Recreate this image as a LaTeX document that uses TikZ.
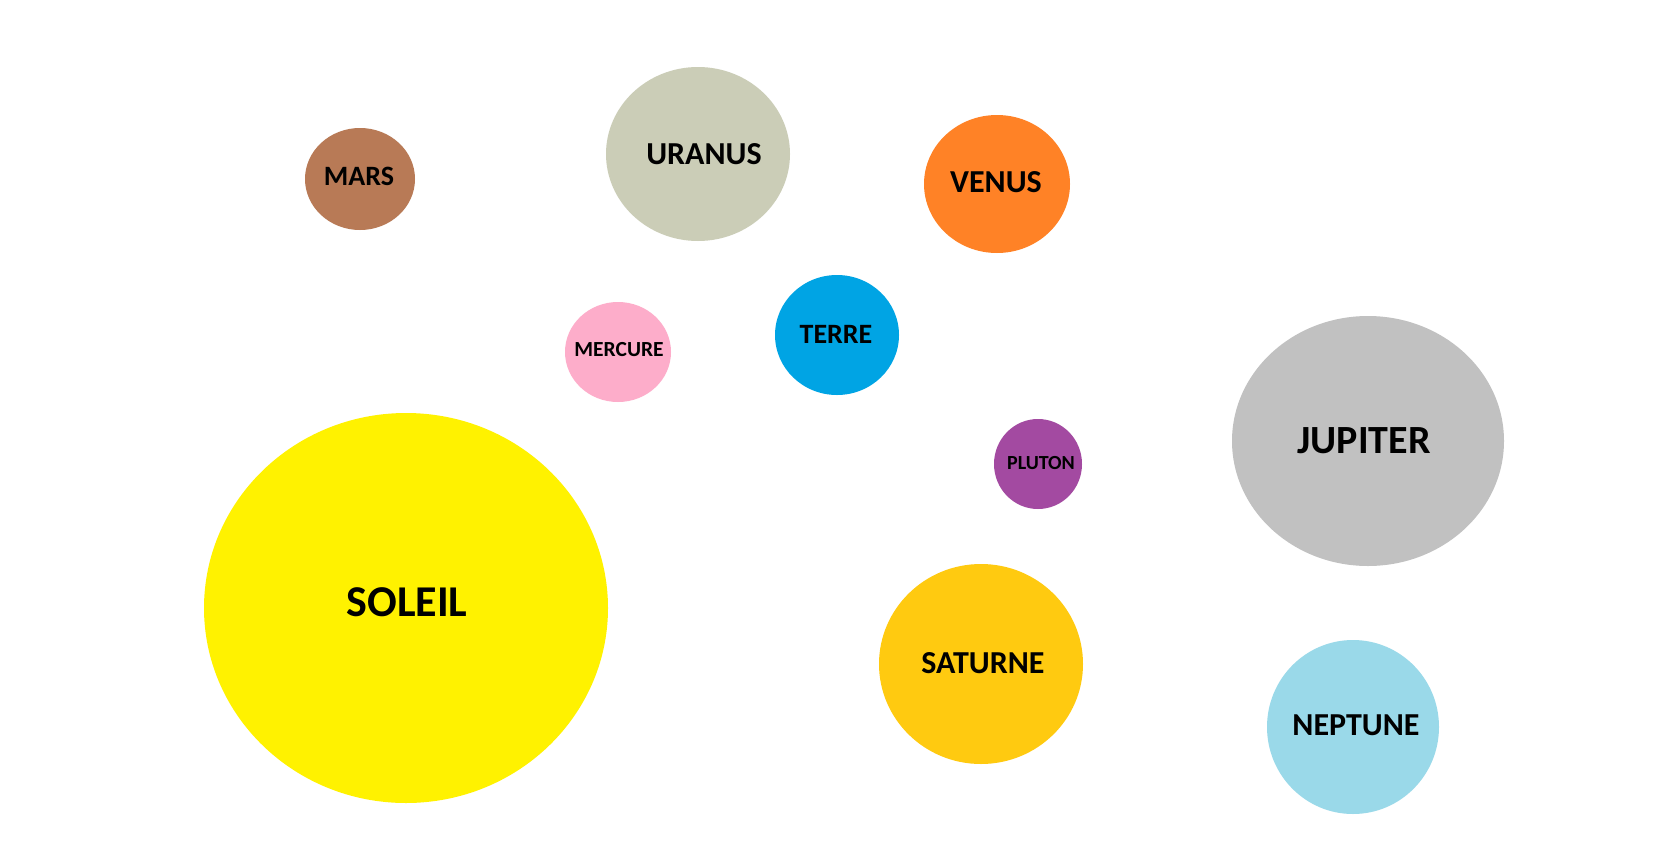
\documentclass[tikz,border=0pt]{standalone}
\usepackage{fontspec}
\setmainfont{Carlito}
\usepackage{tikz}

\definecolor{marscol}{RGB}{184,122,86}
\definecolor{uranuscol}{RGB}{203,205,183}
\definecolor{venuscol}{RGB}{255,130,38}
\definecolor{mercurecol}{RGB}{253,173,202}
\definecolor{terrecol}{RGB}{0,164,228}
\definecolor{plutoncol}{RGB}{163,74,161}
\definecolor{jupitercol}{RGB}{193,193,193}
\definecolor{soleilcol}{RGB}{255,242,0}
\definecolor{saturnecol}{RGB}{255,202,16}
\definecolor{neptunecol}{RGB}{154,217,233}

\begin{document}
\begin{tikzpicture}[x=1pt,y=-1pt,
  nom/.style={inner sep=0pt, font=\bfseries}]
\useasboundingbox (0,0) rectangle (1679,857);
\fill[color=white] (0,0) rectangle (1679,857);
\fill[color=marscol] (360,179) ellipse (55 and 51);
\fill[color=uranuscol] (698,154) ellipse (92 and 87);
\fill[color=venuscol] (997,184) ellipse (73 and 69);
\fill[color=mercurecol] (618,352) ellipse (53 and 50);
\fill[color=terrecol] (837,335) ellipse (62 and 60);
\fill[color=plutoncol] (1038,464) ellipse (44 and 45);
\fill[color=jupitercol] (1368,441) ellipse (136 and 125);
\fill[color=soleilcol] (406,608) ellipse (202 and 195);
\fill[color=saturnecol] (981,664) ellipse (102 and 100);
\fill[color=neptunecol] (1353,727) ellipse (86 and 87);
\path (359,176) node[nom, font=\fontsize{28}{30}\selectfont\bfseries] (mars) {MARS};
\path (704,154) node[nom, font=\fontsize{32}{34}\selectfont\bfseries] (uranus) {URANUS};
\path (996,182) node[nom, font=\fontsize{32}{34}\selectfont\bfseries] (venus) {VENUS};
\path (619,350) node[nom, font=\fontsize{21.5}{23}\selectfont\bfseries] (mercure) {MERCURE};
\path (836,334) node[nom, font=\fontsize{28}{30}\selectfont\bfseries] (terre) {TERRE};
\path (1041,463) node[nom, font=\fontsize{20}{22}\selectfont\bfseries] (pluton) {PLUTON};
\path (1364,441) node[nom, font=\fontsize{40}{42}\selectfont\bfseries] (jupiter) {JUPITER};
\path (407,602) node[nom, font=\fontsize{44}{46}\selectfont\bfseries] (soleil) {SOLEIL};
\path (983,663) node[nom, font=\fontsize{32}{34}\selectfont\bfseries] (saturne) {SATURNE};
\path (1356,725) node[nom, font=\fontsize{32}{34}\selectfont\bfseries] (neptune) {NEPTUNE};
\end{tikzpicture}
\end{document}
